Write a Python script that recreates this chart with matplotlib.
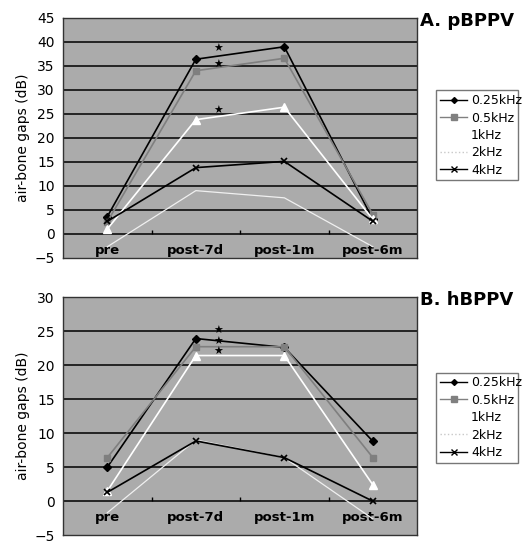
import numpy as np
import matplotlib
matplotlib.use('Agg')
import matplotlib.pyplot as plt
from matplotlib.lines import Line2D

cats = ['pre', 'post-7d', 'post-1m', 'post-6m']
freqs = ['0.25kHz', '0.5kHz', '1kHz', '2kHz', '4kHz']

# A. pBPPV
p_025 = [3.6, 36.4, 39.0, 3.0]
p_05 = [2.5, 34.0, 36.6, 4.0]
p_1k = [1.0, 23.8, 26.4, 3.0]
p_2k = [-2.7, 9.0, 7.5, -2.7]
p_4k = [2.6, 13.8, 15.1, 2.6]
p_stars = [38.5, 35.3, 25.7]

# B. hBPPV
h_025 = [5.0, 23.9, 22.6, 8.8]
h_05 = [6.4, 22.7, 22.7, 6.4]
h_1k = [1.5, 21.4, 21.4, 2.4]
h_2k = [-1.7, 9.0, 6.4, -2.6]
h_4k = [1.3, 8.85, 6.4, 0.0]
h_stars = [25.0, 23.4, 22.0]

styles = [
    dict(color='black', marker='D', ms=4, lw=1.2),
    dict(color='#7f7f7f', marker='s', ms=4, lw=1.2),
    dict(color='white', marker='^', ms=6, lw=1.2),
    dict(color='#f0f0f0', marker=None, lw=0.9),
    dict(color='black', marker='x', ms=5, lw=1.2, mew=1.2),
]
leg_styles = [
    dict(color='black', marker='D', ms=3, lw=1),
    dict(color='#808080', marker='s', ms=4, lw=1),
    dict(color='white', marker='^', ms=4, lw=1),
    dict(color='#c8c8c8', marker=None, lw=1, ls=':'),
    dict(color='black', marker='x', ms=4, lw=1),
]

fig = plt.figure(figsize=(5.3, 5.45), dpi=100)

def panel(rect, series, stars, ylim, title, leg_rect):
    ax = fig.add_axes(rect)
    ax.set_facecolor('#ababab')
    x = np.arange(len(cats))
    for yv in np.arange(ylim[0] + 5, ylim[1], 5):
        ax.axhline(yv, color='black', lw=1.1, zorder=1)
    for vals, st in zip(series, styles):
        ax.plot(x, vals, zorder=3, **st)
    for s in stars:
        ax.text(1.25, s, '★', ha='center', va='center', fontsize=7.8,
                color='black', zorder=4, family=['DejaVu Sans'])
    ax.set_xlim(-0.5, 3.5)
    ax.set_ylim(*ylim)
    ax.set_yticks(np.arange(ylim[0], ylim[1] + 1, 5))
    ax.tick_params(axis='y', length=0, labelsize=10, pad=6)
    ax.set_xticks([])
    for sp in ax.spines.values():
        sp.set_color('#333333')
        sp.set_linewidth(1)
    frac0 = (0 - ylim[0]) / (ylim[1] - ylim[0])
    sec = ax.secondary_xaxis(frac0)
    sec.set_xticks(x)
    sec.set_xticklabels(cats, fontsize=9.5, fontweight='bold')
    sec.set_xticks([0.5, 1.5, 2.5], minor=True)
    sec.tick_params(axis='x', which='major', length=0, pad=7)
    sec.tick_params(axis='x', which='minor', length=3, direction='in', width=1)
    sec.spines['bottom'].set_visible(False)
    ax.set_ylabel('air-bone gaps (dB)', fontsize=10, labelpad=3)
    fig.text(rect[0] + rect[2] + 0.005, rect[1] + rect[3] - 0.005, title,
             fontsize=13, fontweight='bold', ha='left', va='center')
    handles = [Line2D([], [], **st) for st in leg_styles]
    lax = fig.add_axes(leg_rect)
    lax.axis('off')
    lax.legend(handles, freqs, loc='center', fontsize=9, frameon=True,
               fancybox=False, edgecolor='#555555', handlelength=2.2,
               handletextpad=0.3, borderpad=0.3, labelspacing=0.35,
               mode='expand')
    return ax

panel([0.119, 0.527, 0.668, 0.440], [p_025, p_05, p_1k, p_2k, p_4k],
      p_stars, (-5, 45), 'A. pBPPV', [0.811, 0.655, 0.178, 0.193])
panel([0.119, 0.018, 0.668, 0.437], [h_025, h_05, h_1k, h_2k, h_4k],
      h_stars, (-5, 30), 'B. hBPPV', [0.811, 0.136, 0.178, 0.195])

fig.savefig('out.png', dpi=100)
